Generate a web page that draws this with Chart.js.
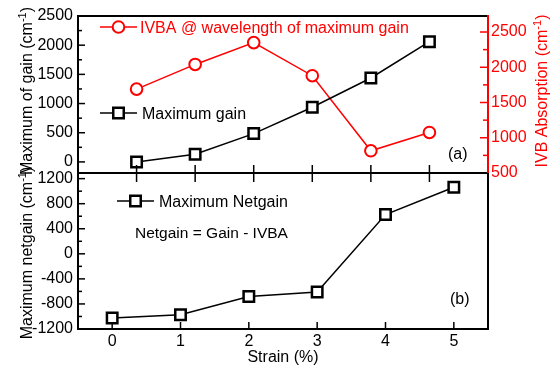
<!DOCTYPE html>
<html><head><meta charset="utf-8">
<style>
html,body{margin:0;padding:0;background:#fff;}
#wrap{position:relative;width:559px;height:367px;overflow:hidden;}
canvas{position:absolute;left:0;top:0;}
</style>
<script src="https://cdn.jsdelivr.net/npm/chart.js@4"></script>
</head><body>
<div id="wrap"><canvas id="cTop" width="559" height="367"></canvas><canvas id="cBot" width="559" height="367"></canvas></div>
<script>
// ---- data ----
const strain = [0, 1, 2, 3, 4, 5];
const maxGain = [0, 132, 485, 937, 1438, 2060];
const ivba = [1690, 2040, 2350, 1880, 815, 1075];
const maxNetgain = [-1024, -971, -680, -610, 626, 1062];
const gainTicks = [0, 500, 1000, 1500, 2000, 2500];
const ivbaTicks = [500, 1000, 1500, 2000, 2500];
const netTicks = [-1200, -800, -400, 0, 400, 800, 1200];
const strainTicks = [0, 1, 2, 3, 4, 5];

const FONT = '"Liberation Sans", Arial, sans-serif';
const RED = '#ff0000';
Chart.defaults.font.family = FONT;
Chart.defaults.font.size = 16;
Chart.defaults.color = '#000';

const pts = (xs, ys) => xs.map((x, i) => ({x: x, y: ys[i]}));
const plain = v => String(v);

function line(ctx, x1, y1, x2, y2, color, w) {
  ctx.beginPath(); ctx.strokeStyle = color; ctx.lineWidth = w;
  ctx.moveTo(x1, y1); ctx.lineTo(x2, y2); ctx.stroke();
}
function rotTitle(ctx, parts, cy, bx, color) {
  ctx.save();
  ctx.translate(bx, cy); ctx.rotate(-Math.PI / 2);
  ctx.fillStyle = color; ctx.textBaseline = 'alphabetic'; ctx.textAlign = 'left';
  let total = 0;
  parts.forEach(p => { ctx.font = p.sup ? '11px ' + FONT : '16px ' + FONT; p.w = ctx.measureText(p.t).width; total += p.w; });
  let x = -total / 2;
  parts.forEach(p => { ctx.font = p.sup ? '11px ' + FONT : '16px ' + FONT; ctx.fillText(p.t, x, p.sup ? -6 : 0); x += p.w; });
  ctx.restore();
}
function square(ctx, x, y, s, color, w) {
  ctx.beginPath(); ctx.fillStyle = '#fff'; ctx.strokeStyle = color; ctx.lineWidth = w;
  ctx.rect(x - s / 2, y - s / 2, s, s); ctx.fill(); ctx.stroke();
}
function circle(ctx, x, y, r, color, w) {
  ctx.beginPath(); ctx.fillStyle = '#fff'; ctx.strokeStyle = color; ctx.lineWidth = w;
  ctx.arc(x, y, r, 0, Math.PI * 2); ctx.fill(); ctx.stroke();
}
function text(ctx, t, x, y, color, size) {
  ctx.font = (size || 16) + 'px ' + FONT; ctx.fillStyle = color;
  ctx.textAlign = 'left'; ctx.textBaseline = 'alphabetic'; ctx.fillText(t, x, y);
}

const topDecor = {
  id: 'topDecor',
  afterDraw(chart) {
    const ctx = chart.ctx, a = chart.chartArea, s = chart.scales;
    ctx.save();
    for (let v = -250; v <= 2750; v += 250) {
      if (v < s.y.min || v > s.y.max) continue;
      const y = s.y.getPixelForValue(v);
      line(ctx, a.left, y, a.left + (v % 500 === 0 ? 7 : 4), y, '#000', 1.5);
    }
    for (let v = 250; v <= 2750; v += 250) {
      if (v < s.y2.min || v > s.y2.max) continue;
      const y = s.y2.getPixelForValue(v);
      line(ctx, a.right - (v % 500 === 0 ? 8 : 5), y, a.right, y, RED, 1.5);
    }
    strainTicks.forEach(v => {
      const x = s.x.getPixelForValue(v);
      line(ctx, x, a.bottom - 8, x, a.bottom + 9, '#000', 1.5);
    });
    line(ctx, a.left - 1, a.top, a.right, a.top, '#000', 2);
    line(ctx, a.left, a.top, a.left, a.bottom, '#000', 2);
    line(ctx, a.left - 1, a.bottom, a.right + 1, a.bottom, '#000', 2);
    line(ctx, a.right, a.top - 1, a.right, a.bottom, RED, 2);
    rotTitle(ctx, [{t: 'Maximum of gain (cm'}, {t: '-1', sup: true}, {t: ')'}], 91, 32, '#000');
    rotTitle(ctx, [{t: 'IVB Absorption (cm'}, {t: '-1', sup: true}, {t: ')'}], 91, 547, RED);
    line(ctx, 100, 27, 137, 27, RED, 1.5);
    circle(ctx, 118.5, 27, 5.8, RED, 2);
    text(ctx, 'IVBA @ wavelength of maximum gain', 140, 32.5, RED);
    line(ctx, 100, 113, 137, 113, '#000', 1.5);
    square(ctx, 118.5, 113, 10.5, '#000', 2.5);
    text(ctx, 'Maximum gain', 142, 119, '#000');
    text(ctx, '(a)', 448, 159, '#000');
    ctx.restore();
  }
};

const botDecor = {
  id: 'botDecor',
  afterDraw(chart) {
    const ctx = chart.ctx, a = chart.chartArea, s = chart.scales;
    ctx.save();
    for (let v = -1200; v <= 1400; v += 200) {
      if (v < s.y.min || v > s.y.max) continue;
      const y = s.y.getPixelForValue(v);
      line(ctx, a.left, y, a.left + (v % 400 === 0 ? 7 : 4), y, '#000', 1.5);
    }
    strainTicks.forEach(v => {
      const x = s.x.getPixelForValue(v);
      line(ctx, x, a.bottom, x, a.bottom - 7, '#000', 1.5);
    });
    line(ctx, a.left, a.top, a.left, a.bottom, '#000', 2);
    line(ctx, a.right, a.top, a.right, a.bottom, '#000', 2);
    line(ctx, a.left - 1, a.bottom, a.right + 1, a.bottom, '#000', 2);
    rotTitle(ctx, [{t: 'Maximum netgain (cm'}, {t: '-1', sup: true}, {t: ')'}], 253, 32, '#000');
    ctx.font = '16px ' + FONT; ctx.fillStyle = '#000'; ctx.textAlign = 'center'; ctx.textBaseline = 'alphabetic';
    ctx.fillText('Strain (%)', (a.left + a.right) / 2, 361.5);
    line(ctx, 117, 201, 154, 201, '#000', 1.5);
    square(ctx, 135.5, 201, 10.5, '#000', 2.5);
    text(ctx, 'Maximum Netgain', 159, 206.7, '#000');
    text(ctx, 'Netgain = Gain - IVBA', 135, 238, '#000', 15.5);
    text(ctx, '(b)', 450, 304, '#000');
    ctx.restore();
  }
};

const common = {
  responsive: false, animation: false, events: [], devicePixelRatio: 1,
  plugins: {legend: {display: false}, tooltip: {enabled: false}},
};

new Chart(document.getElementById('cTop'), {
  type: 'line',
  data: {datasets: [
    {label: 'Maximum gain', data: pts(strain, maxGain), xAxisID: 'x', yAxisID: 'y',
     borderColor: '#000', borderWidth: 1.5, pointStyle: 'rect', pointRadius: 7.4, pointBorderWidth: 2.5,
     pointBorderColor: '#000', pointBackgroundColor: '#fff', tension: 0, clip: false},
    {label: 'IVBA @ wavelength of maximum gain', data: pts(strain, ivba), xAxisID: 'x', yAxisID: 'y2',
     borderColor: RED, borderWidth: 1.5, pointStyle: 'circle', pointRadius: 5.8, pointBorderWidth: 2,
     pointBorderColor: RED, pointBackgroundColor: '#fff', tension: 0, clip: false}
  ]},
  options: Object.assign({}, common, {
    layout: {padding: {top: 16, bottom: 194, left: 0, right: 0}},
    scales: {
      x: {type: 'linear', min: -1, max: 6, display: false},
      y: {type: 'linear', position: 'left', min: -190, max: 2500,
          grid: {display: false, drawTicks: false}, border: {display: false},
          ticks: {padding: 5, color: '#000', callback: plain},
          afterBuildTicks: sc => { sc.ticks = gainTicks.map(v => ({value: v})); },
          afterFit: sc => { sc.width = 78; }},
      y2: {type: 'linear', position: 'right', min: 500, max: 2727,
          grid: {display: false, drawTicks: false}, border: {display: false},
          ticks: {padding: 3, color: RED, callback: plain},
          afterBuildTicks: sc => { sc.ticks = ivbaTicks.map(v => ({value: v})); },
          afterFit: sc => { sc.width = 71; }}
    }
  }),
  plugins: [topDecor]
});

new Chart(document.getElementById('cBot'), {
  type: 'line',
  data: {datasets: [
    {label: 'Maximum Netgain', data: pts(strain, maxNetgain), xAxisID: 'x', yAxisID: 'y',
     borderColor: '#000', borderWidth: 1.5, pointStyle: 'rect', pointRadius: 7.4, pointBorderWidth: 2.5,
     pointBorderColor: '#000', pointBackgroundColor: '#fff', tension: 0, clip: false}
  ]},
  options: Object.assign({}, common, {
    layout: {padding: {top: 173, bottom: 0, left: 0, right: 71}},
    scales: {
      x: {type: 'linear', position: 'bottom', min: -0.5, max: 5.5,
          grid: {display: false, drawTicks: false}, border: {display: false},
          ticks: {padding: 3, color: '#000', callback: plain},
          afterBuildTicks: sc => { sc.ticks = strainTicks.map(v => ({value: v})); },
          afterFit: sc => { sc.height = 38; }},
      y: {type: 'linear', position: 'left', min: -1200, max: 1290,
          grid: {display: false, drawTicks: false}, border: {display: false},
          ticks: {padding: 5, color: '#000', callback: plain},
          afterBuildTicks: sc => { sc.ticks = netTicks.map(v => ({value: v})); },
          afterFit: sc => { sc.width = 78; }}
    }
  }),
  plugins: [botDecor]
});
</script>
</body></html>
